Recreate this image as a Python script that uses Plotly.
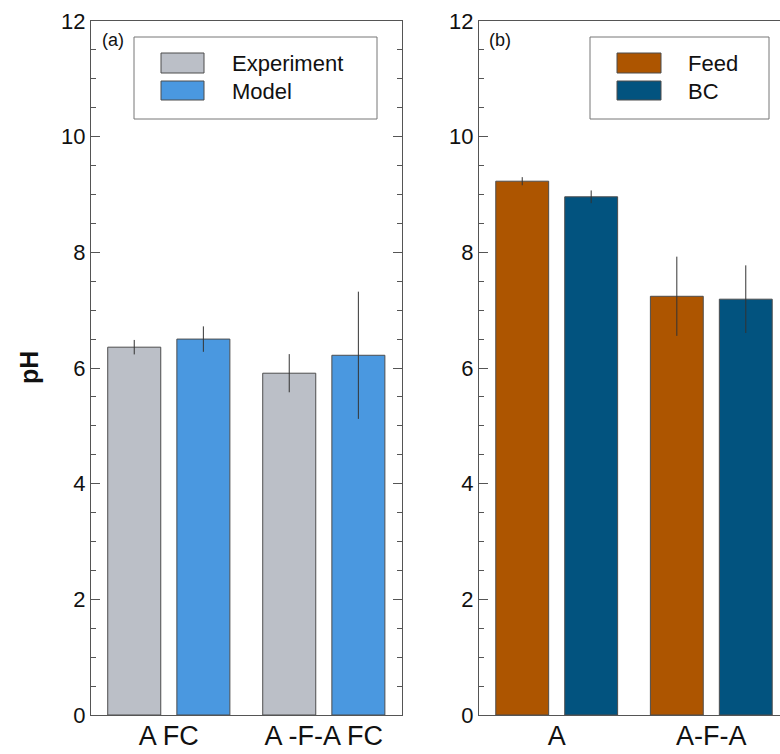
import plotly.graph_objects as go

# ---------------- data ----------------
cats_a = ["A FC", "A -F-A FC"]
exp_vals = [6.36, 5.91]
exp_err = [0.125, 0.33]
model_vals = [6.50, 6.22]
model_err = [0.22, 1.10]

cats_b = ["A", "A-F-A"]
feed_vals = [9.23, 7.24]
feed_err = [0.07, 0.685]
bc_vals = [8.96, 7.19]
bc_err = [0.11, 0.585]

y_tickvals = [0, 2, 4, 6, 8, 10, 12]
y_ticktext = ["0", "2", "4", "6", "8", "10", "12"]

series_names_a = ["Experiment", "Model"]
series_names_b = ["Feed", "BC"]
colors_a = ["#BBBFC7", "#4A98E0"]
colors_b = ["#AD5500", "#02537F"]

# ---------------- style ----------------
FONT = "Liberation Sans, Arial, sans-serif"
W, H = 780, 754
MT, MB = 21, 39
AX = "#555555"
EDGE = "#4d4d4d"


def px_x(p):
    return p / W


def px_y(p):
    return (H - MB - p) / (H - MT - MB)


fig = go.Figure()

for name, vals, errs, col in zip(series_names_a, [exp_vals, model_vals], [exp_err, model_err], colors_a):
    fig.add_trace(go.Bar(
        x=cats_a, y=vals, name=name, xaxis="x", yaxis="y",
        marker=dict(color=col, line=dict(color=EDGE, width=1)),
        error_y=dict(type="data", array=errs, width=0, thickness=1, color="#333333"),
        showlegend=False))

for name, vals, errs, col in zip(series_names_b, [feed_vals, bc_vals], [feed_err, bc_err], colors_b):
    fig.add_trace(go.Bar(
        x=cats_b, y=vals, name=name, xaxis="x2", yaxis="y2",
        marker=dict(color=col, line=dict(color=EDGE, width=1)),
        error_y=dict(type="data", array=errs, width=0, thickness=1, color="#333333"),
        showlegend=False))

xcommon = dict(showline=True, linecolor=AX, linewidth=1, mirror=True, ticks="",
               showgrid=False, zeroline=False, ticklabelstandoff=-3,
               tickfont=dict(family=FONT, size=27, color="#111111"))
ycommon = dict(range=[0, 12], tickvals=y_tickvals, ticktext=y_ticktext,
               showline=True, linecolor=AX, linewidth=1, ticks="inside",
               ticklen=9, tickcolor=AX, tickwidth=1, showgrid=False, zeroline=False,
               minor=dict(dtick=0.5, ticks="inside", ticklen=5, tickcolor=AX, showgrid=False),
               tickfont=dict(family=FONT, size=22, color="#111111"))

fig.update_layout(
    width=W, height=H,
    margin=dict(l=0, r=0, t=MT, b=MB, autoexpand=False),
    paper_bgcolor="white", plot_bgcolor="white",
    barmode="group", bargap=0.108, bargroupgap=0.233,
    font=dict(family=FONT, color="#111111"),
    xaxis=dict(domain=[px_x(91), px_x(402)], range=[-0.502, 1.5045], anchor="y", **xcommon),
    yaxis=dict(domain=[0, 1], anchor="x", mirror="ticks", **ycommon),
    xaxis2=dict(domain=[px_x(479), 1.0], range=[-0.5026, 1.4444], anchor="y2", **xcommon),
    yaxis2=dict(domain=[0, 1], anchor="x2", mirror=False, **ycommon),
)

shapes = []
annotations = []


def add_legend(box, sw_x, txt_x, names, cols):
    shapes.append(dict(type="rect", xref="paper", yref="paper",
                       x0=px_x(box[0]), x1=px_x(box[1]), y0=px_y(box[3]), y1=px_y(box[2]),
                       line=dict(color="#777777", width=1), fillcolor="white", layer="above"))
    rows = [(53, 73), (81, 100)]
    for (t, b), nm, c in zip(rows, names, cols):
        shapes.append(dict(type="rect", xref="paper", yref="paper",
                           x0=px_x(sw_x[0]), x1=px_x(sw_x[1]), y0=px_y(b), y1=px_y(t),
                           line=dict(color=EDGE, width=1), fillcolor=c, layer="above"))
        annotations.append(dict(text=nm, xref="paper", yref="paper", x=px_x(txt_x),
                                y=px_y((t + b) / 2 + 0.5), xanchor="left", yanchor="middle",
                                showarrow=False, font=dict(family=FONT, size=22, color="#111111")))


add_legend((134, 377, 37, 119), (161, 204), 230, series_names_a, colors_a)
add_legend((590, 769, 37, 119), (617, 661), 686, series_names_b, colors_b)

annotations.append(dict(text="(a)", xref="paper", yref="paper", x=px_x(100), y=px_y(40),
                        xanchor="left", yanchor="middle", showarrow=False,
                        font=dict(family=FONT, size=18, color="#111111")))
annotations.append(dict(text="(b)", xref="paper", yref="paper", x=px_x(487), y=px_y(40),
                        xanchor="left", yanchor="middle", showarrow=False,
                        font=dict(family=FONT, size=18, color="#111111")))
annotations.append(dict(text="<b>pH</b>", xref="paper", yref="paper", x=px_x(29), y=px_y(368),
                        xanchor="center", yanchor="middle", textangle=-90, showarrow=False,
                        font=dict(family=FONT, size=25, color="#111111")))

fig.update_layout(shapes=shapes, annotations=annotations)

fig.write_html("out.html")
